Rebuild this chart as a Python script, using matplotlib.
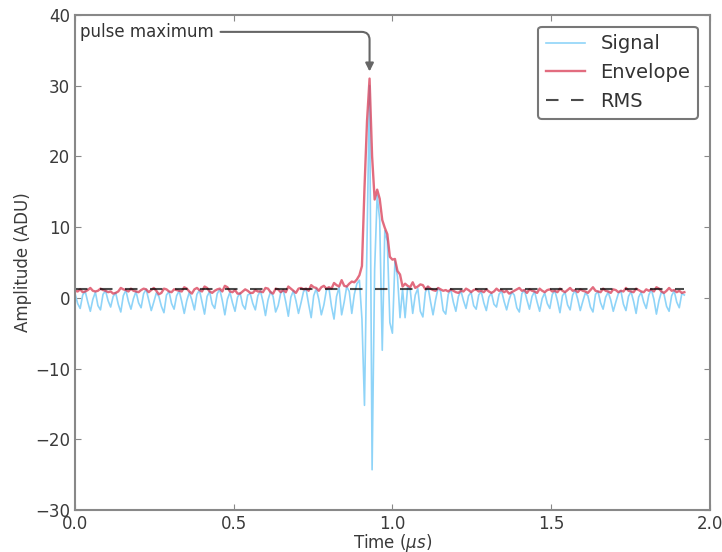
import numpy as np
import matplotlib
matplotlib.use('Agg')
import matplotlib.pyplot as plt

# sampling of the trace (microseconds)
dt = 0.008
n_samples = 241

# signal amplitude (ADU), one row = 10 samples
signal = [
    0.6, -0.8, -1.5, 0.4, 0.9, -0.6, -1.9, -0.2, 0.8, -1.1,
    -1.7, 0.5, 1.0, -0.4, -1.3, 0.2, 0.7, -0.9, -2.0, 0.3,
    1.1, -0.5, -1.6, -0.1, 0.9, -0.7, -1.4, 0.6, 1.2, -0.3,
    -1.8, -0.6, 0.7, 0.2, -1.2, -2.1, 0.4, 0.9, -0.8, -1.6,
    0.3, 1.0, -0.5, -2.2, -0.4, 0.8, -0.3, -1.7, 0.5, 1.1,
    -0.6, -2.3, 0.2, 0.9, -0.9, -1.5, 0.6, 1.2, -0.4, -2.4,
    -0.2, 0.8, -0.7, -1.9, 0.1, 0.7, -1.0, -1.6, 0.4, 0.6,
    -0.8, -1.7, 0.3, 1.0, -0.5, -2.5, -0.3, 0.9, 0.2, -2.0,
    -1.1, 0.7, 1.1, -0.6, -2.6, 0.1, 1.0, -0.4, -2.2, -0.7,
    0.9, 1.2, -0.9, -2.8, 0.3, 1.3, -0.2, -2.4, -1.0, 1.1,
    1.4, -1.2, -3.0, 0.2, 1.5, -2.4, -0.6, 1.6, 0.9, -2.2,
    0.5, 2.0, 2.5, -3.0, -15.2, 8.0, 30.0, -24.3, 4.0, 14.5,
    11.0, -7.4, 9.5, 8.0, -3.5, -5.0, 5.2, 3.0, -2.8, 1.2,
    -2.8, 1.5, 1.2, -2.2, 0.4, 1.3, -1.9, -2.7, 0.8, 1.6,
    -0.5, -2.4, -0.3, 1.4, 0.9, -1.8, -2.3, 0.5, 1.2, -0.6,
    -1.9, 0.2, 1.0, -0.4, -1.5, 0.3, 0.8, -1.1, -1.6, 0.4,
    0.9, -0.7, -1.8, 0.1, 0.7, -0.9, -1.3, 0.5, 1.0, -0.5,
    -1.7, -0.2, 0.8, 0.4, -1.4, -2.0, 0.6, 1.1, -0.3, -1.6,
    0.2, 0.9, -0.6, -1.9, -0.1, 0.7, -0.8, -1.5, 0.5, 1.0,
    -0.4, -2.1, 0.3, 0.8, -1.0, -1.7, 0.4, 1.1, -0.2, -1.8,
    -0.5, 0.7, 0.3, -1.3, -2.0, 0.5, 0.9, -0.7, -1.6, 0.1,
    0.8, -0.3, -1.9, -0.6, 0.6, 1.0, -0.9, -1.8, 0.2, 0.9,
    -0.5, -2.2, 0.1, 0.8, -0.6, -1.5, 0.4, 1.2, -0.2, -2.3,
    -0.4, 0.9, 0.5, -1.2, -1.9, 0.3, 1.0, -0.6, -1.4, 0.6,
    0.4,
]

# envelope of the signal (ADU)
envelope = [
    1.0, 0.9, 1.2, 0.8, 0.9, 1.1, 1.4, 1.0, 0.9, 1.0,
    1.3, 1.1, 1.0, 0.8, 0.9, 0.6, 0.7, 0.9, 1.4, 1.2,
    1.1, 0.9, 1.3, 1.0, 0.9, 0.8, 1.1, 1.3, 1.2, 0.8,
    1.1, 1.4, 1.0, 0.5, 0.7, 1.3, 1.2, 0.9, 0.8, 1.2,
    1.1, 1.0, 0.9, 1.5, 1.3, 0.9, 0.6, 1.2, 1.4, 1.1,
    0.9, 1.6, 1.4, 0.9, 0.7, 1.0, 1.2, 1.3, 0.9, 1.7,
    1.5, 0.9, 0.8, 1.1, 0.6, 0.6, 0.9, 1.2, 1.0, 0.7,
    0.7, 1.1, 0.9, 0.9, 0.8, 1.4, 1.3, 0.8, 0.6, 1.3,
    1.2, 0.8, 1.1, 0.8, 1.6, 1.3, 1.0, 0.7, 1.3, 1.4,
    1.2, 1.3, 1.0, 1.8, 1.5, 1.4, 1.0, 1.5, 1.7, 1.3,
    1.5, 1.3, 2.1, 1.8, 1.6, 2.5, 1.7, 1.6, 2.0, 2.3,
    2.2, 2.6, 3.2, 4.5, 15.5, 25.0, 31.0, 20.0, 13.9, 15.3,
    14.0, 11.0, 9.9, 9.0, 5.8, 5.4, 5.5, 3.8, 3.3, 1.6,
    2.0, 1.7, 1.5, 2.2, 1.4, 1.6, 1.9, 1.8, 1.2, 1.6,
    1.3, 1.1, 1.0, 1.4, 1.2, 1.0, 1.1, 0.9, 1.2, 1.0,
    0.8, 0.7, 1.0, 0.9, 1.3, 1.1, 0.8, 1.1, 1.2, 0.9,
    1.0, 0.8, 1.2, 0.9, 0.7, 0.9, 1.3, 1.0, 1.1, 0.8,
    1.0, 0.6, 0.8, 1.0, 1.2, 1.4, 1.0, 1.1, 0.7, 1.2,
    1.0, 0.9, 0.7, 1.3, 1.0, 0.8, 1.1, 1.2, 0.9, 1.0,
    0.8, 1.3, 1.0, 0.8, 1.1, 1.4, 1.0, 1.1, 0.8, 1.2,
    1.0, 0.9, 0.7, 1.1, 1.5, 1.0, 0.9, 0.8, 1.3, 1.0,
    0.9, 0.7, 1.2, 1.1, 0.8, 1.0, 0.9, 1.4, 1.0, 0.9,
    0.8, 1.3, 1.1, 0.9, 0.8, 1.2, 1.0, 1.2, 0.9, 1.5,
    1.3, 0.9, 0.7, 1.0, 1.4, 1.0, 1.1, 0.8, 1.0, 0.7,
    0.8,
]

# rms level of the noise (ADU)
rms_level = 1.25

# pulse maximum marker
pulse_time = 0.928
pulse_amp = 32.0

x_ticks = [0.0, 0.5, 1.0, 1.5, 2.0]
y_ticks = [-30, -20, -10, 0, 10, 20, 30, 40]

time = np.arange(n_samples) * dt

fig = plt.figure(figsize=(7.22, 5.52), dpi=100)
ax = fig.add_axes([0.104, 0.076, 0.879, 0.897])

ax.plot(time, signal, color='#8fd4f8', lw=1.2, label='Signal')
ax.plot(time, envelope, color='#d8344e', lw=1.7, alpha=0.72,
        label='Envelope')
ax.plot(time, np.full(n_samples, rms_level), color='black', lw=1.5,
        alpha=0.7, dashes=(6, 6), label='RMS')

#arrow pointing to the maximum
ax.annotate('pulse maximum', xy=(pulse_time, pulse_amp),
            xytext=(0.015, 37.6), fontsize=12, color='#333333',
            va='center',
            arrowprops=dict(arrowstyle='-|>', color='#666666', lw=1.5,
                            connectionstyle='angle,angleA=0,angleB=90,rad=8',
                            shrinkA=3, shrinkB=0))

ax.set_xlim(0, 2.0)
ax.set_ylim(-30, 40)
ax.set_xticks(x_ticks)
ax.set_yticks(y_ticks)
ax.tick_params(direction='in', top=True, right=True, length=4,
               labelsize=12, colors='#888888', labelcolor='#3a3a3a')
for s in ax.spines.values():
    s.set_color('#888888')
    s.set_linewidth(1.5)

ax.set_xlabel(r'Time ($\mu s$)', fontsize=12, color='#3a3a3a', labelpad=-1)
ax.set_ylabel('Amplitude (ADU)', fontsize=12, color='#3a3a3a', labelpad=2)

leg = ax.legend(loc='upper right', fontsize=14, handlelength=2.0,
                fancybox=True, framealpha=1, borderaxespad=0.6)
leg.get_frame().set_edgecolor('#777777')
leg.get_frame().set_linewidth(1.5)
for t in leg.get_texts():
    t.set_color('#333333')

fig.savefig('out.png', dpi=100)
